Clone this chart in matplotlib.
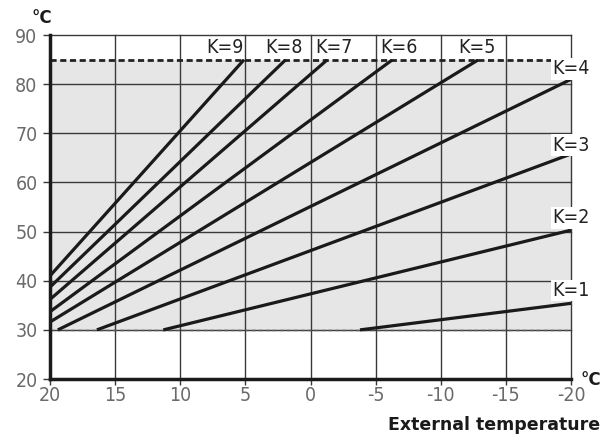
"""
Heating curves: flow temperature vs external temperature for K=1..9.
"""

import matplotlib.pyplot as plt
from matplotlib import font_manager

# values
k_names = ["K=1", "K=2", "K=3", "K=4", "K=5", "K=6", "K=7", "K=8", "K=9"]
x_start = [-3.8, 11.3, 16.4, 19.4, 20, 20, 20, 20, 20]
y_start = [30, 30, 30, 30, 31.6, 33.7, 36.2, 38.7, 41.0]
x_end = [-20, -20, -20, -20, -12.9, -6.3, -1.3, 1.9, 5.1]
y_end = [35.4, 50.3, 65.8, 81.0, 85, 85, 85, 85, 85]

label_x = [-20, -20, -20, -20, -12.8, -6.8, -1.8, 2.0, 6.6]
label_y = [38.0, 52.8, 67.6, 83.1, 87.4, 87.4, 87.4, 87.4, 87.4]

max_flow = 85
min_flow = 30
x_ticks = [20, 15, 10, 5, 0, -5, -10, -15, -20]
y_ticks = [20, 30, 40, 50, 60, 70, 80, 90]

# condensed face for the numbers and K labels
narrow = font_manager.FontProperties(family="DejaVu Sans", stretch="condensed")

fig = plt.figure(figsize=(6.04, 4.37), dpi=100)
ax = fig.add_axes([0.0828, 0.1327, 0.8626, 0.787])

# shaded operating band
ax.axhspan(min_flow, max_flow, color="#e6e6e6", zorder=0, lw=0)

# grid
for xv in x_ticks:
    ax.axvline(xv, color="#3a3a3a", lw=1.0, zorder=1, clip_on=False)
for yv in y_ticks:
    ax.axhline(yv, color="#3a3a3a", lw=1.0, zorder=1, clip_on=False)

ax.axhline(max_flow, color="#222222", lw=2.0, ls=(0, (2.2, 1.3)), zorder=2)
ax.axhline(min_flow, color="#555555", lw=1.0, ls=(0, (3, 2)), zorder=2)

# heating curves
for i in range(len(k_names)):
    ax.plot([x_start[i], x_end[i]], [y_start[i], y_end[i]],
            color="#1a1a1a", lw=2.3, solid_capstyle="butt", zorder=3)
    ax.text(label_x[i], label_y[i], k_names[i], ha="center", va="center",
            fontproperties=narrow, fontsize=14, color="#222222", zorder=4,
            bbox=dict(facecolor="white", edgecolor="none", pad=0.8))

ax.set_xlim(20, -20)
ax.set_ylim(20, 90)
ax.set_xticks(x_ticks)
ax.set_yticks(y_ticks)
ax.set_xticklabels([str(v) for v in x_ticks], fontproperties=narrow,
                   fontsize=14, color="#6a6a6a")
ax.set_yticklabels([str(v) for v in y_ticks], fontproperties=narrow,
                   fontsize=14, color="#6a6a6a")
ax.tick_params(axis="y", length=5, width=1.0, color="#3a3a3a", pad=4)
ax.tick_params(axis="x", length=4, width=1.0, color="#3a3a3a", pad=1)

for side in ["top", "right"]:
    ax.spines[side].set_visible(False)
ax.spines["left"].set_linewidth(2.5)
ax.spines["bottom"].set_linewidth(2.5)
ax.spines["left"].set_color("#1a1a1a")
ax.spines["bottom"].set_color("#1a1a1a")
ax.spines["left"].set_zorder(5)
ax.spines["bottom"].set_zorder(5)

# unit labels and axis title
fig.text(42 / 604, 1 - 18 / 437, "°C", ha="center", va="center",
         fontsize=12, fontweight="bold", color="#1a1a1a")
fig.text(591 / 604, 1 - 380 / 437, "°C", ha="center", va="center",
         fontsize=12, fontweight="bold", color="#1a1a1a")
fig.text(600 / 604, 1 - 425 / 437, "External temperature", ha="right",
         va="center", fontsize=12.5, fontweight="bold", color="#1a1a1a")

fig.savefig("out.png", dpi=100)
